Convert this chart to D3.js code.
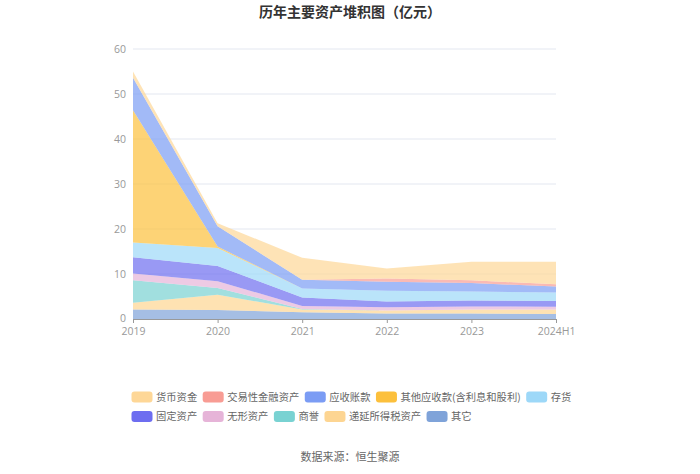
<!DOCTYPE html>
<html>
<head>
<meta charset="utf-8">
<script src="https://cdn.jsdelivr.net/npm/d3@7/dist/d3.min.js"></script>
<style>
  body { margin: 0; background: #fff; }
  svg { display: block; font-family: "Noto Sans CJK SC", "Noto Sans", sans-serif; }
</style>
</head>
<body>
<script>
// Data (亿元)
var years = ["2019", "2020", "2021", "2022", "2023", "2024H1"];
var seriesNames = ["货币资金", "交易性金融资产", "应收账款", "其他应收款(含利息和股利)", "存货",
                   "固定资产", "无形资产", "商誉", "递延所得税资产", "其它"];
var huobi    = [1.4, 0.7, 4.9, 2.2, 4.1, 5.0];
var jiaoyi   = [0.0, 0.0, 0.0, 0.7, 0.6, 0.5];
var yingshou = [7.2, 4.5, 1.9, 2.0, 1.9, 1.3];
var qitaYS   = [29.4, 0.3, 0.0, 0.0, 0.0, 0.0];
var cunhuo   = [3.3, 4.0, 2.0, 2.4, 2.0, 1.9];
var guding   = [3.6, 3.4, 1.9, 1.3, 1.3, 1.3];
var wuxing   = [1.5, 1.5, 0.7, 0.7, 0.7, 0.6];
var shangyu  = [5.0, 1.5, 0.1, 0.0, 0.0, 0.0];
var diyan    = [1.5, 3.4, 0.6, 0.7, 0.9, 1.0];
var qita     = [2.1, 2.0, 1.5, 1.2, 1.2, 1.1];
var yTicks = [0, 10, 20, 30, 40, 50, 60];

var colors = ["#fed797", "#f89c94", "#7b9cf4", "#fcc03c", "#9dd8f8",
              "#6d6df0", "#e6b4d8", "#79d2d2", "#fdd592", "#7fa3d9"];
var values = [huobi, jiaoyi, yingshou, qitaYS, cunhuo, guding, wuxing, shangyu, diyan, qita];

// rows for d3.stack
var rows = years.map(function(y, i) {
    var r = { year: y };
    seriesNames.forEach(function(n, k) { r[n] = values[k][i]; });
    return r;
});

var width = 700, height = 474;
var margin = { top: 49, right: 144, bottom: 155, left: 133 };

var svg = d3.select("body").append("svg")
    .attr("width", width)
    .attr("height", height);

var x = d3.scalePoint()
    .domain(years)
    .range([margin.left, width - margin.right]);

var y = d3.scaleLinear()
    .domain([0, 60])
    .range([height - margin.bottom, margin.top]);

// Title
svg.append("text")
    .attr("x", width / 2)
    .attr("y", 17)
    .attr("text-anchor", "middle")
    .style("font-size", "14px")
    .style("font-weight", "bold")
    .style("fill", "#333")
    .text("历年主要资产堆积图（亿元）");

// Grid lines
svg.append("g")
    .selectAll("line")
    .data(yTicks.slice(1))
    .enter().append("line")
    .attr("x1", margin.left)
    .attr("x2", width - margin.right)
    .attr("y1", function(d) { return y(d); })
    .attr("y2", function(d) { return y(d); })
    .attr("stroke", "#e3e7f0")
    .attr("stroke-width", 1);

// Stack: bottom is the last series (其它), top is 货币资金
var stackKeys = seriesNames.slice().reverse();
var stack = d3.stack().keys(stackKeys);
var layers = stack(rows);

var area = d3.area()
    .x(function(d) { return x(d.data.year); })
    .y0(function(d) { return y(d[0]); })
    .y1(function(d) { return y(d[1]); });

svg.append("g")
    .selectAll("path")
    .data(layers)
    .enter().append("path")
    .attr("d", area)
    .attr("fill", function(d) { return colors[seriesNames.indexOf(d.key)]; })
    .attr("fill-opacity", 0.7);

// Y axis (labels only)
var yAxis = svg.append("g")
    .attr("transform", "translate(" + (margin.left - 7) + ",0)")
    .call(d3.axisLeft(y).tickValues(yTicks).tickSize(0).tickPadding(0));
yAxis.select(".domain").remove();
yAxis.selectAll("text")
    .style("font-size", "10.5px")
    .style("fill", "#999")
    .style("font-family", "'Open Sans', 'Noto Sans', sans-serif");
// lift the "0" a touch so it clears the first x label
yAxis.selectAll(".tick text").filter(function(d) { return d === 0; }).attr("dy", "0.2em");

// X axis
var xAxis = svg.append("g")
    .attr("transform", "translate(0," + y(0) + ")")
    .call(d3.axisBottom(x).tickSize(4).tickPadding(5));
xAxis.select(".domain").attr("stroke", "#999");
xAxis.selectAll(".tick line").attr("stroke", "#999");
xAxis.selectAll("text")
    .style("font-size", "10.5px")
    .style("fill", "#999")
    .style("font-family", "'Open Sans', 'Noto Sans', sans-serif");

// Legend
var legendLeft = 131.5, legendRight = 580;
var rowY = [397, 416.5];
var legend = svg.append("g");
var lx = legendLeft, row = 0;
seriesNames.forEach(function(name, k) {
    var g = legend.append("g");
    var t = g.append("text")
        .attr("x", 24.5)
        .attr("dy", "0.35em")
        .style("font-size", "10.3px")
        .style("fill", "#666")
        .text(name);
    var w = t.node().getComputedTextLength();
    var itemW = 24.5 + w + 5.5;
    if (lx + itemW - 5 > legendRight) { row++; lx = legendLeft; }
    g.attr("transform", "translate(" + lx + "," + rowY[row] + ")");
    g.append("rect")
        .attr("x", 0)
        .attr("y", -5.5)
        .attr("width", 21)
        .attr("height", 11)
        .attr("rx", 3)
        .attr("fill", colors[k]);
    lx += itemW;
});

// Source
svg.append("text")
    .attr("x", width / 2)
    .attr("y", 461)
    .attr("text-anchor", "middle")
    .style("font-size", "11px")
    .style("fill", "#666")
    .text("数据来源：恒生聚源");
</script>
</body>
</html>
